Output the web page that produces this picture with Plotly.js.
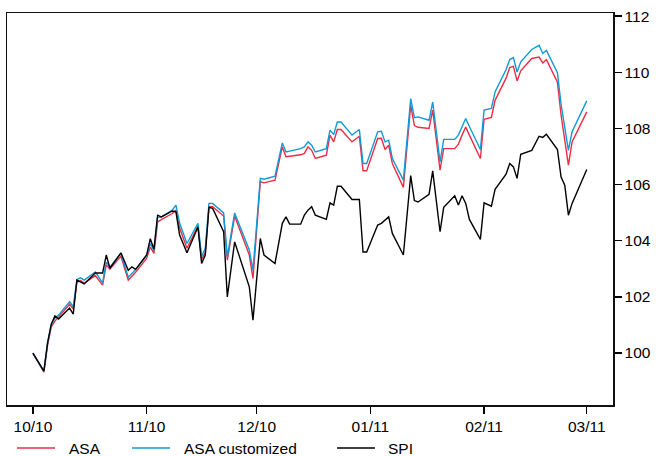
<!DOCTYPE html>
<html>
<head>
<meta charset="utf-8">
<script src="https://cdn.plot.ly/plotly-3.0.1.min.js"></script>
<style>
  html, body { margin: 0; padding: 0; background: #ffffff; }
  #chart { width: 656px; height: 456px; }
</style>
</head>
<body>
<div id="chart"></div>
<script>
const dates = [
  "2010-10-01","2010-10-04","2010-10-05","2010-10-06","2010-10-07","2010-10-08","2010-10-11","2010-10-12","2010-10-13","2010-10-14",
  "2010-10-15","2010-10-18","2010-10-20","2010-10-21","2010-10-22","2010-10-25","2010-10-27","2010-10-28","2010-10-29",
  "2010-11-01","2010-11-02","2010-11-03","2010-11-04","2010-11-05","2010-11-08","2010-11-09","2010-11-10","2010-11-12","2010-11-15",
  "2010-11-16","2010-11-17","2010-11-18","2010-11-19","2010-11-22","2010-11-23","2010-11-25","2010-11-29","2010-11-30",
  "2010-12-02","2010-12-03","2010-12-06","2010-12-08","2010-12-09","2010-12-10","2010-12-13","2010-12-14","2010-12-15","2010-12-16",
  "2010-12-17","2010-12-20","2010-12-21","2010-12-22","2010-12-23","2010-12-24","2010-12-27","2010-12-29","2010-12-30","2010-12-31",
  "2011-01-03","2011-01-04","2011-01-05","2011-01-06","2011-01-07","2011-01-10","2011-01-12","2011-01-13","2011-01-14","2011-01-17",
  "2011-01-18","2011-01-20","2011-01-21","2011-01-24","2011-01-25","2011-01-26","2011-01-27","2011-01-28","2011-01-31",
  "2011-02-01","2011-02-03","2011-02-04","2011-02-07","2011-02-08","2011-02-09","2011-02-10","2011-02-11","2011-02-14","2011-02-16",
  "2011-02-17","2011-02-18","2011-02-21","2011-02-22","2011-02-23","2011-02-24","2011-02-25","2011-03-01"
];

const asa = [
  100.00,99.32,100.28,100.93,101.14,101.28,101.74,101.57,102.53,102.58,
  102.49,102.76,102.42,103.14,102.99,103.45,102.60,102.74,102.88,
  103.37,103.77,103.55,104.67,104.75,104.97,105.09,104.45,103.73,104.52,
  103.33,103.59,105.21,105.21,104.88,103.31,104.88,103.49,102.66,
  106.10,106.06,106.16,107.34,106.99,107.01,107.06,107.11,107.34,107.22,
  106.93,107.05,107.76,107.52,107.96,107.96,107.52,107.72,106.49,106.49,
  107.64,107.65,107.25,107.40,106.75,105.90,108.83,108.10,108.04,108.00,
  108.65,106.51,107.28,107.28,107.44,107.76,108.05,107.76,106.93,
  108.32,108.39,109.00,109.79,110.17,110.21,109.69,110.05,110.49,110.54,
  110.33,110.45,109.65,108.47,107.58,106.69,107.52,108.59
];

const asaCustom = [
  100.00,99.36,100.36,101.00,101.25,101.35,101.83,101.65,102.62,102.68,
  102.60,102.89,102.50,103.24,103.07,103.54,102.70,102.83,102.97,
  103.47,103.90,103.65,104.83,104.84,105.09,105.27,104.63,103.90,104.62,
  103.43,103.74,105.33,105.33,104.99,103.43,104.99,103.67,102.95,
  106.22,106.19,106.30,107.48,107.16,107.19,107.28,107.34,107.52,107.40,
  107.16,107.28,107.94,107.78,108.23,108.23,107.76,107.96,106.75,106.75,
  107.88,107.90,107.52,107.58,106.93,106.16,109.06,108.38,108.41,108.29,
  108.94,106.81,107.61,107.61,107.76,108.06,108.35,108.07,107.25,
  108.65,108.71,109.30,110.10,110.45,110.52,110.01,110.37,110.81,110.96,
  110.67,110.78,109.98,108.86,108.04,107.22,107.88,108.98
];

const spi = [
  100.00,99.36,100.36,101.03,101.32,101.21,101.60,101.39,102.60,102.52,
  102.46,102.85,102.85,103.49,103.02,103.57,102.95,103.07,102.98,
  103.49,104.07,103.70,104.91,104.85,105.06,105.03,104.20,103.57,104.49,
  103.19,103.49,105.19,105.15,104.32,102.00,103.96,102.36,101.17,
  104.08,103.49,103.19,104.62,104.85,104.59,104.59,104.91,105.09,105.21,
  104.91,104.76,105.35,105.27,105.94,105.94,105.47,105.47,103.60,103.60,
  104.56,104.62,104.73,104.85,104.26,103.49,106.32,105.43,105.38,105.65,
  106.49,104.32,105.19,105.60,105.27,105.60,105.33,104.76,104.05,
  105.35,105.23,105.83,106.37,106.75,106.63,106.22,107.08,107.22,107.72,
  107.68,107.79,107.25,106.27,105.98,104.91,105.33,106.54
];

const seriesNames = ["ASA", "ASA customized", "SPI"];
const seriesColors = ["#EE2C44", "#0F9BD7", "#000000"];

const xTickVals = ["2010-10-01","2010-11-01","2010-12-01","2011-01-01","2011-02-01","2011-03-01"];
const xTickText = ["10/10","11/10","12/10","01/11","02/11","03/11"];
const yTickVals = [100, 102, 104, 106, 108, 110, 112];
const yTickText = ["100","102","104","106","108","110","112"];

const values = [asa, asaCustom, spi];
const traces = values.map((v, i) => ({
  type: "scatter",
  mode: "lines",
  x: dates,
  y: v,
  name: seriesNames[i],
  line: { color: seriesColors[i], width: 1.4 },
  showlegend: false
}));

const FONT = "Liberation Sans, Arial, sans-serif";
const W = 656, H = 456;
const M = { l: 7, r: 43, t: 13, b: 51 };
const pw = W - M.l - M.r, ph = H - M.t - M.b;

// legend drawn below the plot (pixel positions converted to paper coords)
const legendY = (H - M.b - 448) / ph;
const legendItems = [
  { x0: 17, x1: 55, tx: 67 },
  { x0: 132, x1: 170, tx: 182 },
  { x0: 337, x1: 375, tx: 386 }
];
const toPaperX = px => (px - M.l) / pw;
const shapes = legendItems.map((it, i) => ({
  type: "line", xref: "paper", yref: "paper",
  x0: toPaperX(it.x0), x1: toPaperX(it.x1), y0: legendY, y1: legendY,
  line: { color: seriesColors[i], width: 1.4 }
}));
const annotations = legendItems.map((it, i) => ({
  xref: "paper", yref: "paper", x: toPaperX(it.tx), y: legendY,
  xanchor: "left", yanchor: "middle", showarrow: false,
  text: seriesNames[i], font: { family: FONT, size: 15.5, color: "#000" }
}));

const layout = {
  width: W, height: H,
  margin: M,
  paper_bgcolor: "#ffffff",
  plot_bgcolor: "#ffffff",
  showlegend: false,
  font: { family: FONT, size: 15.5, color: "#000" },
  xaxis: {
    type: "date",
    range: ["2010-09-23 22:30", "2011-03-08 03:40"],
    tickmode: "array", tickvals: xTickVals, ticktext: xTickText,
    ticks: "outside", ticklen: 7, tickwidth: 1.3, tickcolor: "#000",
    showgrid: false, zeroline: false,
    showline: true, linecolor: "#111", linewidth: 1.5, mirror: true,
    tickfont: { family: FONT, size: 15.5, color: "#000" }
  },
  yaxis: {
    side: "right",
    range: [98.15, 112.11],
    tickmode: "array", tickvals: yTickVals, ticktext: yTickText,
    ticks: "outside", ticklen: 7, tickwidth: 1.3, tickcolor: "#000",
    showgrid: false, zeroline: false,
    showline: true, linecolor: "#111", linewidth: 1.5, mirror: true,
    tickfont: { family: FONT, size: 15.5, color: "#000" }
  },
  shapes: shapes,
  annotations: annotations
};

Plotly.newPlot("chart", traces, layout, { displayModeBar: false, staticPlot: true });
</script>
</body>
</html>
